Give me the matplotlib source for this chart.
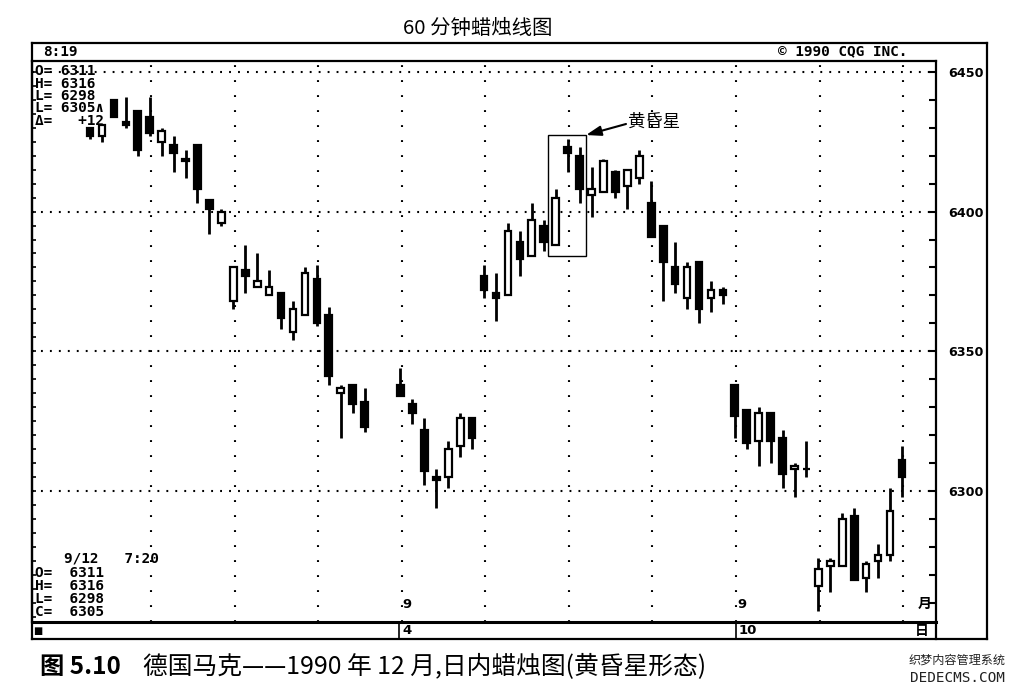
import matplotlib
matplotlib.use("Agg")
import matplotlib.pyplot as plt
from matplotlib.patches import Rectangle
from matplotlib.lines import Line2D
import matplotlib.transforms as mtransforms

plt.rcParams['font.family'] = ['DejaVu Sans']

# ---------------- data (60-minute candles, Deutsche mark, Dec 1990) ----------------
slots  = [0, 1, 2, 3, 4, 5, 6, 7, 8, 9, 10, 11, 12, 13, 14, 15, 16, 17, 18, 19, 20, 21, 22, 23,
          26, 27, 28, 29, 30, 31, 32, 33, 34, 35, 36, 37, 38, 39, 40, 41, 42, 43, 44, 45, 46,
          47, 48, 49, 50, 51, 52, 53, 54, 55, 56, 57, 58, 59, 60, 61, 62, 63, 64, 65, 66, 67, 68]
opens  = [6430, 6427, 6440, 6432, 6436, 6434, 6425, 6424, 6419, 6424, 6404, 6396, 6368, 6379, 6373,
          6370, 6371, 6357, 6363, 6376, 6363, 6335, 6338, 6332,
          6338, 6331, 6322, 6305, 6305, 6316, 6326, 6377, 6371, 6370, 6389, 6384, 6395, 6388, 6423,
          6420, 6406, 6407, 6414, 6409, 6412, 6403, 6395, 6380, 6369, 6382, 6369, 6372,
          6338, 6329, 6318, 6328, 6319, 6308, 6308, 6266, 6273, 6273, 6291, 6269, 6275, 6277, 6311]
highs  = [6430, 6431, 6440, 6441, 6436, 6441, 6430, 6427, 6422, 6424, 6404, 6401, 6380, 6388, 6385,
          6379, 6371, 6368, 6380, 6381, 6366, 6338, 6338, 6337,
          6344, 6333, 6326, 6308, 6318, 6328, 6326, 6381, 6378, 6396, 6393, 6403, 6397, 6408, 6426,
          6423, 6416, 6419, 6415, 6415, 6422, 6411, 6395, 6389, 6382, 6382, 6375, 6373,
          6338, 6329, 6330, 6328, 6322, 6310, 6318, 6276, 6276, 6292, 6294, 6275, 6281, 6301, 6316]
lows   = [6426, 6425, 6434, 6430, 6420, 6427, 6420, 6414, 6412, 6403, 6392, 6395, 6365, 6371, 6373,
          6370, 6358, 6354, 6363, 6359, 6338, 6319, 6328, 6321,
          6334, 6324, 6302, 6294, 6301, 6312, 6315, 6369, 6361, 6370, 6377, 6384, 6386, 6388, 6414,
          6403, 6398, 6407, 6405, 6401, 6410, 6391, 6368, 6371, 6365, 6360, 6364, 6367,
          6319, 6315, 6309, 6310, 6301, 6298, 6305, 6257, 6264, 6273, 6268, 6264, 6269, 6275, 6298]
closes = [6427, 6431, 6434, 6431, 6422, 6428, 6429, 6421, 6418, 6408, 6401, 6400, 6380, 6377, 6375,
          6373, 6362, 6365, 6378, 6360, 6341, 6337, 6331, 6323,
          6334, 6328, 6307, 6304, 6315, 6326, 6319, 6372, 6369, 6393, 6383, 6397, 6389, 6405, 6421,
          6408, 6408, 6418, 6407, 6415, 6420, 6391, 6382, 6374, 6380, 6365, 6372, 6370,
          6327, 6317, 6328, 6318, 6306, 6309, 6308, 6272, 6275, 6290, 6268, 6274, 6277, 6293, 6305]

star_slots = [39, 40, 41]                      # evening star pattern (boxed)
price_ticks = [6300, 6350, 6400, 6450]
price_labels = ['6300', '6350', '6400', '6450']
session_labels = ['9', '9']
date_labels = ['4', '10']
info_top = ['O= 6311', 'H= 6316', 'L= 6298', 'L= 6305\u2227', '\u0394=   +12']
info_bottom = ['9/12   7:20', 'O=  6311', 'H=  6316', 'L=  6298', 'C=  6305']
title = '60 分钟蜡烛线图'
caption_num = '图 5.10'
caption_txt = '德国马克——1990 年 12 月,日内蜡烛图(黄昏星形态)'
star_label = '黄昏星'

# ---------------- figure ----------------
W, H = 1015, 687
fig = plt.figure(figsize=(W / 100, H / 100), dpi=100)
fig.patch.set_facecolor('white')


def fx(px):
    return px / W


def fy(py):
    return 1 - py / H


def fline(x1, y1, x2, y2, lw=1.6):
    fig.add_artist(Line2D([fx(x1), fx(x2)], [fy(y1), fy(y2)], transform=fig.transFigure,
                          color='black', lw=lw, solid_capstyle='projecting'))


def ftext(px, py, s, **kw):
    return fig.text(fx(px), fy(py), s, **kw)


def fit(t, width):
    r = fig.canvas.get_renderer()
    bb = t.get_window_extent(r)
    t.set_fontsize(t.get_fontsize() * width / bb.width)


L_, R_, T_, B_ = 32, 936, 61, 622
ax = fig.add_axes([fx(L_), fy(B_), fx(R_) - fx(L_), fy(T_) - fy(B_)])
x_left, x_right = -4.86, 70.85
y_low, y_high = 6253.1, 6453.9
ax.set_xlim(x_left, x_right)
ax.set_ylim(y_low, y_high)
ax.set_xticks([])

# grid
dot_h = (0, (0.9, 3.4))
dot_v = (0, (0.9, 6.3))
for p in price_ticks:
    ax.axhline(p, color='black', lw=1.5, linestyle=dot_h, dash_capstyle='butt', zorder=1)
grid_x = [5 + 7 * k + 0.1 for k in range(10)]
for gx in grid_x:
    ax.axvline(gx, color='black', lw=1.5, linestyle=dot_v, dash_capstyle='butt', zorder=1)

# candles
w = 0.56
for s, o, h, l, c in zip(slots, opens, highs, lows, closes):
    ax.vlines(s, l, h, color='black', lw=2.0, zorder=2)
    fc = 'black' if c < o else 'white'
    ax.add_patch(Rectangle((s - w / 2, min(o, c)), w, abs(c - o), facecolor=fc,
                           edgecolor='black', lw=1.6, zorder=3))

# evening star box
i0 = slots.index(star_slots[0])
i2 = slots.index(star_slots[-1])
box_lo = min(lows[i0:i2 + 1]) - 4
box_hi = max(highs[i0:i2 + 1]) + 1.4
bx0 = star_slots[0] - 0.64
bx1 = star_slots[-1] + 0.54
ax.add_patch(Rectangle((bx0, box_lo), bx1 - bx0, box_hi - box_lo, fill=False,
                       edgecolor='black', lw=1.0, zorder=4))
ax.annotate('', xy=(bx1, box_hi), xytext=(626, H - 124), textcoords='figure pixels',
            arrowprops=dict(arrowstyle='-|>,head_length=0.9,head_width=0.3', color='black',
                            lw=1.5, shrinkA=0, shrinkB=0))
t = ftext(628, 122, star_label, family=['Noto Sans CJK SC'], fontsize=12, ha='left', va='center')
fit(t, 52)

# left ticks (every 5) and right axis with labels
ax.yaxis.set_major_locator(plt.MultipleLocator(5))
ax.tick_params(axis='y', direction='in', length=3, width=1.2, left=True, right=False,
               labelleft=False)
for sp in ax.spines.values():
    sp.set_linewidth(1.6)
ax.spines['bottom'].set_linewidth(2.2)

ax2 = ax.twinx()
ax2.set_ylim(y_low, y_high)
rt = list(range(6260, 6451, 10))
labs = [price_labels[price_ticks.index(v)] if v in price_ticks else '' for v in rt]
ax2.set_yticks(rt, labels=labs, fontweight='bold', fontsize=9.2)
ax2.tick_params(axis='y', direction='in', length=5, width=1.5, pad=9)
for sp in ax2.spines.values():
    sp.set_visible(False)

# session "9" labels at day starts
trans = mtransforms.blended_transform_factory(ax.transData, ax.transAxes)
for gx, lab in zip([grid_x[3], grid_x[7]], session_labels):
    ax.text(gx + 0.1, 0.02, lab, transform=trans, fontsize=9.5, fontweight='bold',
            ha='left', va='bottom')
ax.text(0.9875, 0.02, '月', transform=ax.transAxes, family=['Noto Sans CJK SC'],
        fontsize=10, fontweight='bold', ha='center', va='bottom')

# outer frame and strips
fline(32, 43, 987, 43)
fline(32, 43, 32, 639)
fline(987, 43, 987, 639)
fline(32, 639, 987, 639)
fline(936, 622, 936, 639)
sep_px = [399, 736]
for sx, lab in zip(sep_px, date_labels):
    fline(sx, 622, sx, 639, lw=1.2)
    ftext(sx + 3, 631, lab, fontsize=9.5, fontweight='bold', ha='left', va='center')
ftext(922, 631, '日', family=['Noto Sans CJK SC'], fontsize=10, fontweight='bold',
      ha='center', va='center')
ftext(38, 631, '\u25a0', fontsize=7, ha='center', va='center')

# header strip texts
mono = dict(family='DejaVu Sans Mono', fontweight='bold', fontsize=10.4, va='center', ha='left')
ftext(43, 52, '8:19', **mono)
ftext(778, 51, '\u00a9 1990 CQG INC.', **mono)

for i, s in enumerate(info_top):
    ftext(35, 71 + i * 12.5, s, **mono)
ftext(64, 558, info_bottom[0], **mono)
for i, s in enumerate(info_bottom[1:]):
    ftext(35, 573 + i * 13, s, **mono)

# title and caption
t = ftext(478, 28, title, family=['Noto Sans CJK SC'], fontsize=13, ha='center', va='center')
fit(t, 149)
t = ftext(40, 667, caption_num, family=['Noto Sans CJK SC'], fontsize=14, fontweight='bold',
          ha='left', va='center')
fit(t, 81)
t = ftext(143, 667, caption_txt, family=['Noto Sans CJK SC'], fontsize=14, ha='left',
          va='center')
fit(t, 565)
t = ftext(957, 660, '织梦内容管理系统', family=['Noto Sans CJK SC'], fontsize=7,
          ha='center', va='center', color='#222222')
fit(t, 97)
t = ftext(957, 678, 'DEDECMS.COM', family='DejaVu Sans Mono', fontsize=7,
          ha='center', va='center', color='#222222')
fit(t, 95)

fig.savefig('out.png', dpi=100, facecolor='white')
